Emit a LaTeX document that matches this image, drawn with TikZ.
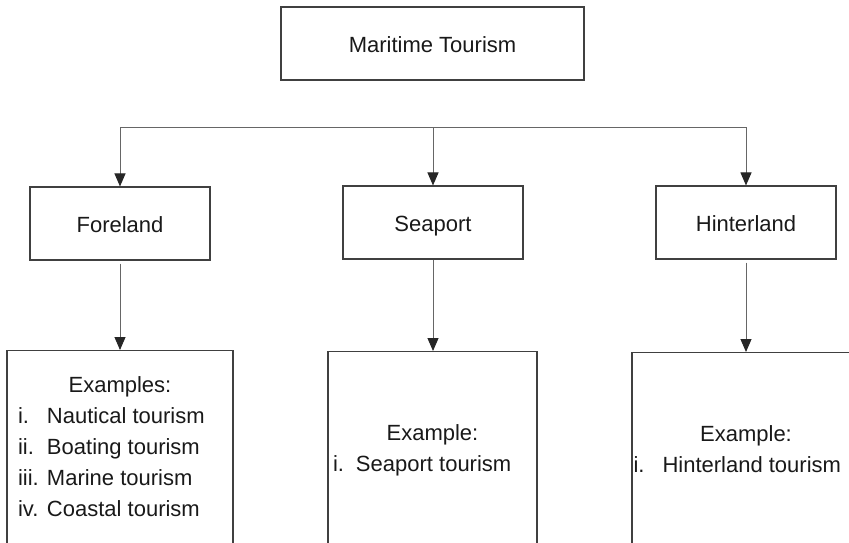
\documentclass[tikz,border=0pt]{standalone}
\usepackage{fontspec}
\setmainfont{Liberation Sans}
\usepackage{array}
\usetikzlibrary{arrows.meta, positioning}
\tikzset{
  box/.style={
    rectangle, draw=black!75, line width=1.1pt, inner sep=0pt,
    font=\fontsize{22}{31}\selectfont, text=black!90
  },
  topbox/.style={box, minimum width=303pt, minimum height=73pt, text height=22pt, text depth=5pt},
  midbox/.style={box, minimum width=180pt, minimum height=73pt, text height=22pt, text depth=5pt},
  listbox/.style={box, anchor=north, minimum height=196pt},
  edge/.style={draw=black!60, line width=1pt, -{Triangle[length=13pt, width=11pt, color=black!85]}},
  branch/.style={draw=black!60, line width=1pt}
}

\begin{document}
\begin{tikzpicture}[x=1pt, y=-1pt]
    \useasboundingbox (0,0) rectangle (849,542);
    \clip (0,0) rectangle (849,542);
    
    % Top
    \node[topbox] (mt) at (432.5,43.5) {Maritime Tourism};
    
    % Second level
    \node[midbox] (fore) at (120,223.5) {Foreland};
    \node[midbox] (sea) at (433,222.5) {Seaport};
    \node[midbox] (hint) at (746,222.5) {Hinterland};
    
    % Examples
    \node[listbox, minimum width=226pt, inner xsep=11pt] (forex) at (120,350) {%
      \begin{tabular}{@{}p{29pt}@{}p{175pt}@{}}
        \multicolumn{2}{@{}c@{}}{Examples:}\\
        i. & Nautical tourism\\
        ii. & Boating tourism\\
        iii. & Marine tourism\\
        iv. & Coastal tourism
      \end{tabular}};
    \node[listbox, minimum width=209pt, inner xsep=5pt] (seaex) at (432.5,351) {%
      \begin{tabular}{@{}p{23pt}@{}p{176pt}@{}}
        \multicolumn{2}{@{}c@{}}{Example:}\\
        i. & Seaport tourism
      \end{tabular}};
    \node[listbox, minimum width=228pt, inner xsep=1.5pt] (hintex) at (746,352) {%
      \begin{tabular}{@{}p{29pt}@{}p{196pt}@{}}
        \multicolumn{2}{@{}c@{}}{Example:}\\
        i. & Hinterland tourism
      \end{tabular}};
    
    % Branches
    \coordinate (bl) at (120,127);
    \coordinate (bm) at (433,127);
    \coordinate (br) at (746,127);
    \draw[branch] (bl) -- (br);
    \draw[edge] (bl) -- (fore);
    \draw[edge] (bm) -- (sea);
    \draw[edge] (br) -- (hint);
    
    \draw[edge, shorten <=3pt] (fore) -- (forex);
    \draw[edge] (sea) -- (sea |- seaex.north);
    \draw[edge, shorten <=3pt] (hint) -- (hintex);
    
\end{tikzpicture}
\end{document}
